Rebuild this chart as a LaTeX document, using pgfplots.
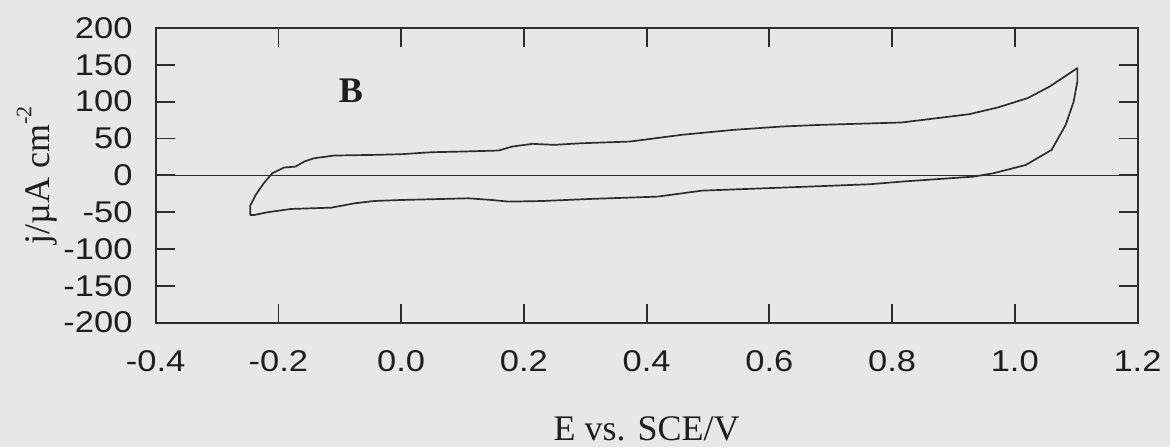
\documentclass[border=0pt]{standalone}
\usepackage{pgfplots}
\pgfplotsset{compat=1.18}
\usepackage{fontspec}
\setmainfont{Liberation Serif}
\newfontfamily\tickfont[FakeStretch=1.15]{Liberation Sans}
\definecolor{bg}{RGB}{231,231,231}
\definecolor{ink}{RGB}{45,45,45}
\definecolor{txt}{RGB}{30,30,30}
\begin{document}
\begin{tikzpicture}
\fill[bg] (-77.85pt,-62.25pt) rectangle (507.15pt,161.25pt);
\begin{axis}[
  at={(0pt,0pt)}, anchor=south west,
  scale only axis, width=490.9pt, height=147.25pt,
  xmin=-0.4, xmax=1.2, ymin=-200, ymax=200,
  xtick={-0.4,-0.2,0,0.2,0.4,0.6,0.8,1.0,1.2},
  xticklabels={-0.4,-0.2,0.0,0.2,0.4,0.6,0.8,1.0,1.2},
  ytick={-200,-150,-100,-50,0,50,100,150,200},
  yticklabels={-200,-150,-100,-50,0,50,100,150,200},
  tick align=inside, tick pos=both,
  xticklabel pos=lower, yticklabel pos=left,
  major tick length=9.5pt,
  axis line style={ink, line width=1pt},
  every tick/.style={ink, line width=0.9pt},
  xticklabel style={font=\tickfont\fontsize{15}{17}\selectfont, text=txt, anchor=north, inner sep=0pt, yshift=-13.75pt},
  yticklabel style={font=\tickfont\fontsize{15}{17}\selectfont, text=txt, anchor=east, inner sep=0pt, xshift=-11.4pt},
  xlabel={E vs. SCE/V},
  xlabel style={font=\fontsize{18}{20}\selectfont, text=txt, at={(axis description cs:0.5,-0.399)}, anchor=base, inner sep=0pt},
  ylabel={j/µA cm\raisebox{1.1ex}{\fontsize{11}{12}\selectfont -2}},
  ylabel style={font=\fontsize{18}{20}\selectfont, text=txt, at={(axis description cs:-0.108,0.5)}, anchor=base, inner sep=0pt},
]
\addplot[ink, line width=0.5pt] coordinates {(-0.4,0) (1.2,0)};
\addplot[ink, line width=0.85pt, line join=round] coordinates {
(-0.246,-54.0)
(-0.246,-41.3)
(-0.237,-26.7)
(-0.224,-10.9)
(-0.210,2.7)
(-0.191,10.5)
(-0.172,11.8)
(-0.158,18.6)
(-0.142,23.1)
(-0.109,26.8)
(-0.043,27.7)
(0.000,28.6)
(0.050,31.3)
(0.099,32.2)
(0.159,33.6)
(0.181,39.0)
(0.214,42.7)
(0.249,41.3)
(0.294,43.5)
(0.373,45.8)
(0.457,54.9)
(0.542,61.7)
(0.620,66.2)
(0.685,68.5)
(0.816,71.7)
(0.926,83.0)
(0.972,92.0)
(1.021,104.8)
(1.057,120.6)
(1.102,145.6)
(1.102,127.4)
(1.096,100.2)
(1.083,68.5)
(1.060,34.5)
(1.018,14.0)
(0.965,2.7)
(0.933,-1.8)
(0.816,-8.6)
(0.764,-12.2)
(0.620,-16.8)
(0.490,-20.9)
(0.418,-29.0)
(0.307,-32.2)
(0.229,-35.0)
(0.175,-35.8)
(0.148,-33.6)
(0.110,-31.3)
(0.066,-32.2)
(0.000,-33.6)
(-0.043,-34.9)
(-0.076,-38.1)
(-0.114,-44.0)
(-0.180,-45.8)
(-0.218,-50.3)
(-0.240,-54.0)
(-0.246,-54.0)
};
\node[font=\bfseries\fontsize{18}{20}\selectfont, text=txt] at (axis cs:-0.082,114.5) {B};
\end{axis}
\end{tikzpicture}
\end{document}
